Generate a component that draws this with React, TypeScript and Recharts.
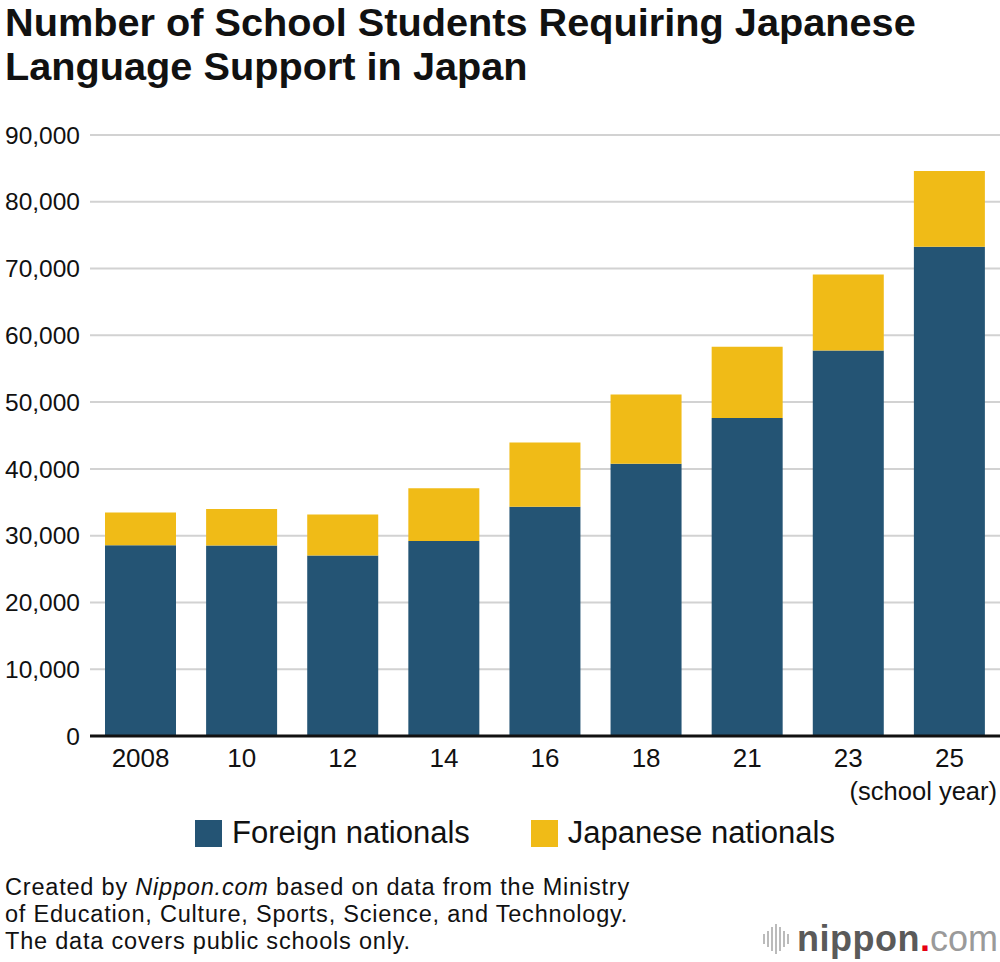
import { BarChart, Bar, XAxis, YAxis, CartesianGrid } from 'recharts'

const years = ['2008', '10', '12', '14', '16', '18', '21', '23', '25']
const foreignNationals = [28575, 28511, 27013, 29198, 34335, 40755, 47619, 57718, 73250]
const japaneseNationals = [4895, 5496, 6171, 7897, 9612, 10371, 10688, 11405, 11350]
const yTicks = [0, 10000, 20000, 30000, 40000, 50000, 60000, 70000, 80000, 90000]

const NAVY = '#245474'
const YELLOW = '#F0BB17'
const FONT = '"Liberation Sans", Arial, Helvetica, sans-serif'

const chartData = years.map((year, i) => ({
  year,
  foreign: foreignNationals[i],
  japanese: japaneseNationals[i],
}))

function LegendItem({ color, label }: { color: string; label: string }) {
  return (
    <div style={{ display: 'flex', alignItems: 'center' }}>
      <div style={{ width: 27, height: 27, background: color, marginRight: 10 }} />
      <span style={{ fontSize: 31, color: '#111' }}>{label}</span>
    </div>
  )
}

export default function App() {
  return (
    <div
      style={{
        position: 'absolute',
        top: 0,
        left: 0,
        width: 1000,
        height: 962,
        background: '#fff',
        fontFamily: FONT,
        overflow: 'hidden',
      }}
    >
      <div
        style={{
          position: 'absolute',
          left: 5,
          top: 0,
          fontSize: 39.7,
          fontWeight: 700,
          lineHeight: '44px',
          color: '#111',
        }}
      >
        Number of School Students Requiring Japanese
        <br />
        Language Support in Japan
      </div>

      <div style={{ position: 'absolute', left: 0, top: 0 }}>
        <BarChart
          width={1000}
          height={800}
          data={chartData}
          margin={{ top: 135, right: 0, left: 0, bottom: 0 }}
        >
          <CartesianGrid vertical={false} stroke="#d2d2d2" strokeWidth={2} />
          <XAxis
            dataKey="year"
            height={64}
            tickLine={false}
            tickSize={0}
            tickMargin={13}
            axisLine={{ stroke: '#111', strokeWidth: 3 }}
            tick={{ fill: '#111', fontSize: 26, fontFamily: FONT }}
            interval={0}
          />
          <YAxis
            width={90}
            domain={[0, 90000]}
            ticks={yTicks}
            axisLine={false}
            tickLine={false}
            tickSize={0}
            tickMargin={10}
            tick={{ fill: '#111', fontSize: 24.5, fontFamily: FONT }}
            tickFormatter={(v: number) => v.toLocaleString('en-US')}
          />
          <Bar dataKey="foreign" stackId="a" fill={NAVY} barSize={71} isAnimationActive={false} />
          <Bar dataKey="japanese" stackId="a" fill={YELLOW} barSize={71} isAnimationActive={false} />
        </BarChart>
      </div>

      <div
        style={{
          position: 'absolute',
          right: 3,
          top: 777,
          fontSize: 25.5,
          color: '#111',
        }}
      >
        (school year)
      </div>

      <div
        style={{
          position: 'absolute',
          left: 195,
          top: 815,
          display: 'flex',
          gap: 61,
        }}
      >
        <LegendItem color={NAVY} label="Foreign nationals" />
        <LegendItem color={YELLOW} label="Japanese nationals" />
      </div>

      <div
        style={{
          position: 'absolute',
          left: 5,
          top: 874,
          fontSize: 23.5,
          letterSpacing: 0.8,
          lineHeight: '27px',
          color: '#111',
        }}
      >
        Created by <i>Nippon.com</i> based on data from the Ministry
        <br />
        of Education, Culture, Sports, Science, and Technology.
        <br />
        The data covers public schools only.
      </div>

      <div
        style={{
          position: 'absolute',
          right: 2,
          top: 918,
          display: 'flex',
          alignItems: 'center',
        }}
      >
        <div style={{ display: 'flex', alignItems: 'center', gap: 2, marginRight: 8 }}>
          {[10, 16, 24, 30, 24, 16, 10].map((h, i) => (
            <div key={i} style={{ width: 2, height: h, background: '#bbb' }} />
          ))}
        </div>
        <span style={{ fontSize: 36, fontWeight: 700, color: '#5a5a5a', letterSpacing: 0.5 }}>
          nippon
        </span>
        <span style={{ fontSize: 36, fontWeight: 700, color: '#e60012' }}>.</span>
        <span style={{ fontSize: 36, color: '#9a9a9a' }}>com</span>
      </div>
    </div>
  )
}
